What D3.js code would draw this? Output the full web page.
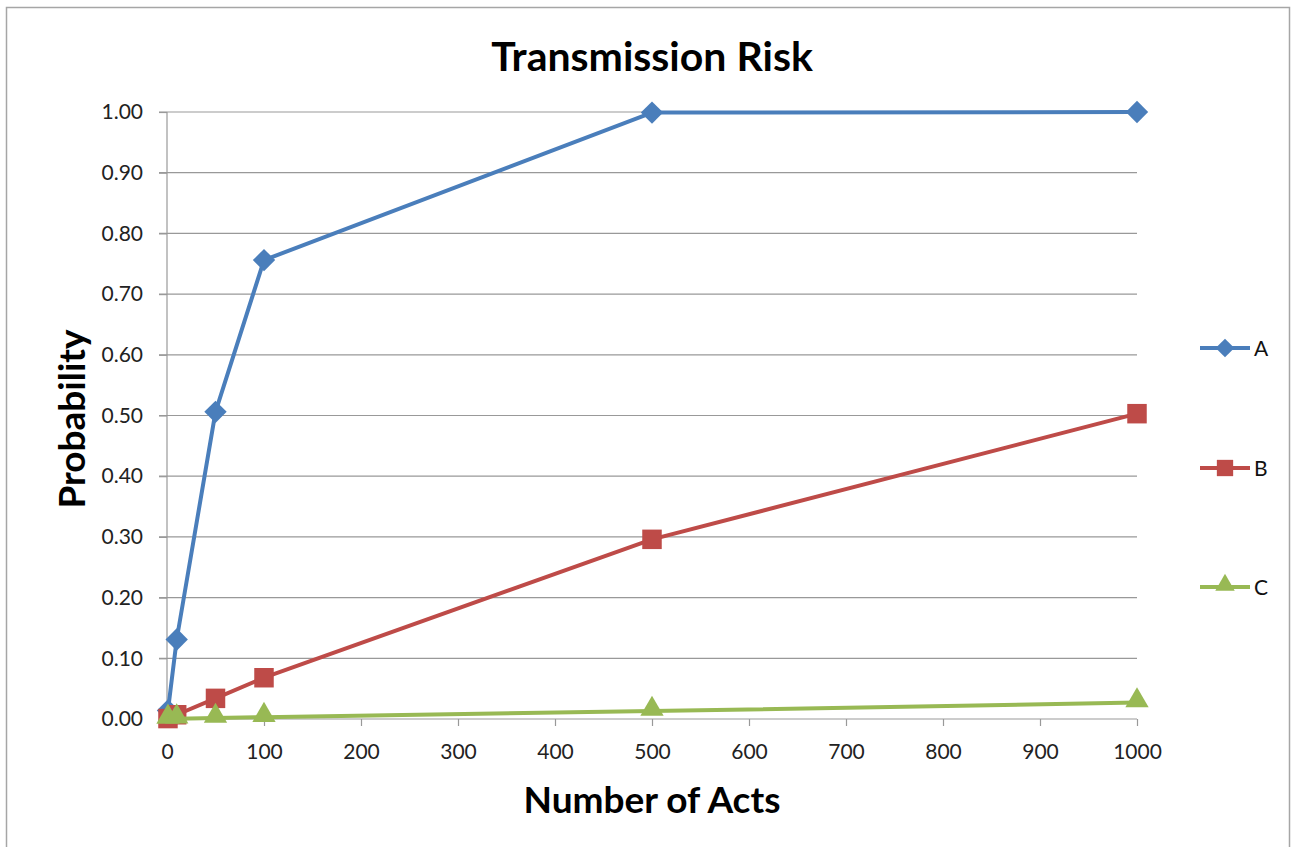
<!DOCTYPE html>
<html><head><meta charset="utf-8">
<script src="https://cdn.jsdelivr.net/npm/d3@7"></script>
<style>body{margin:0;background:#fff;} svg{display:block;}</style>
</head><body>
<svg id="c" width="1296" height="847"></svg>
<script>
const acts = [1, 10, 50, 100, 500, 1000];
const seriesA = [0.014, 0.131, 0.506, 0.756, 0.999, 1.0];
const seriesB = [0.0007, 0.007, 0.034, 0.068, 0.296, 0.503];
const seriesC = [0.00003, 0.0003, 0.0015, 0.003, 0.013, 0.027];
const seriesNames = ["A", "B", "C"];
const xTicks = [0,100,200,300,400,500,600,700,800,900,1000];
const yTicks = [0,0.1,0.2,0.3,0.4,0.5,0.6,0.7,0.8,0.9,1.0];

const svg = d3.select("#c");
const font = "Lato, 'Open Sans', sans-serif";
const x = d3.scaleLinear().domain([0,1000]).range([167,1137]);
const y = d3.scaleLinear().domain([0,1]).range([719,112]);

svg.append("rect").attr("x",6.5).attr("y",7.5).attr("width",1283).attr("height",850)
  .attr("fill","#fff").attr("stroke","#a6a6a6").attr("stroke-width",1.5);

// gridlines
svg.append("g").selectAll("line").data(yTicks.slice(1)).join("line")
  .attr("x1",159).attr("x2",1137).attr("y1",d=>y(d)).attr("y2",d=>y(d))
  .attr("stroke","#999").attr("stroke-width",1.2);

// y axis
const ya = svg.append("g").attr("transform","translate(167,0)")
  .call(d3.axisLeft(y).tickValues(yTicks).tickFormat(d3.format(".2f")).tickSize(8).tickPadding(16));
ya.select(".domain").attr("stroke","#999").attr("stroke-width",1.2).attr("d","M0,719V112");
ya.selectAll(".tick line").attr("stroke","#999").attr("stroke-width",1.2);
ya.selectAll("text").attr("font-family",font).attr("font-size",21).attr("fill","#222");

// x axis
const xa = svg.append("g").attr("transform","translate(0,719)")
  .call(d3.axisBottom(x).tickValues(xTicks).tickFormat(d3.format("d")).tickSize(7).tickPadding(18));
xa.select(".domain").attr("stroke","#999").attr("stroke-width",1.2).attr("d","M167,0H1137");
xa.selectAll(".tick line").attr("stroke","#999").attr("stroke-width",1.2);
xa.selectAll("text").attr("font-family",font).attr("font-size",21).attr("fill","#222");

const colors = ["#4a7ebb","#be4b48","#98b954"];
const data = [seriesA, seriesB, seriesC];
const symbols = [d3.symbolSquare, d3.symbolSquare, d3.symbolTriangle];
const rot = [45, 0, 0];
const sizes = [250, 380, 235];
const line = d3.line().x(d=>x(d[0])).y(d=>y(d[1]));

data.forEach((vals,i)=>{
  const pts = acts.map((a,j)=>[a, vals[j]]);
  const g = svg.append("g");
  g.append("path").attr("d",line(pts)).attr("fill","none")
    .attr("stroke",colors[i]).attr("stroke-width",4).attr("stroke-linejoin","round");
  g.selectAll("path.m").data(pts).join("path").attr("class","m")
    .attr("transform",d=>`translate(${x(d[0])},${y(d[1]) - (i===2?2:0)}) rotate(${rot[i]})`)
    .attr("d",d3.symbol().type(symbols[i]).size(sizes[i])).attr("fill",colors[i]);
});

// legend
const legY = [348, 468, 587];
seriesNames.forEach((n,i)=>{
  const g = svg.append("g").attr("transform",`translate(0,${legY[i]})`);
  g.append("line").attr("x1",1200).attr("x2",1250).attr("stroke",colors[i]).attr("stroke-width",4);
  g.append("path").attr("transform",`translate(1225,${i===2?-2:0}) rotate(${rot[i]})`)
    .attr("d",d3.symbol().type(symbols[i]).size(sizes[i]*0.7)).attr("fill",colors[i]);
  g.append("text").attr("x",1254).attr("y",8).text(n)
    .attr("font-family",font).attr("font-size",21).attr("fill","#111");
});

// titles
svg.append("text").attr("x",652).attr("y",71).attr("text-anchor","middle")
  .attr("font-family",font).attr("font-weight","bold").attr("font-size",41).text("Transmission Risk");
svg.append("text").attr("x",652).attr("y",813).attr("text-anchor","middle")
  .attr("font-family",font).attr("font-weight","bold").attr("font-size",37).text("Number of Acts");
svg.append("text").attr("transform","translate(85,419) rotate(-90)").attr("text-anchor","middle")
  .attr("font-family",font).attr("font-weight","bold").attr("font-size",37).text("Probability");
</script>
</body></html>
